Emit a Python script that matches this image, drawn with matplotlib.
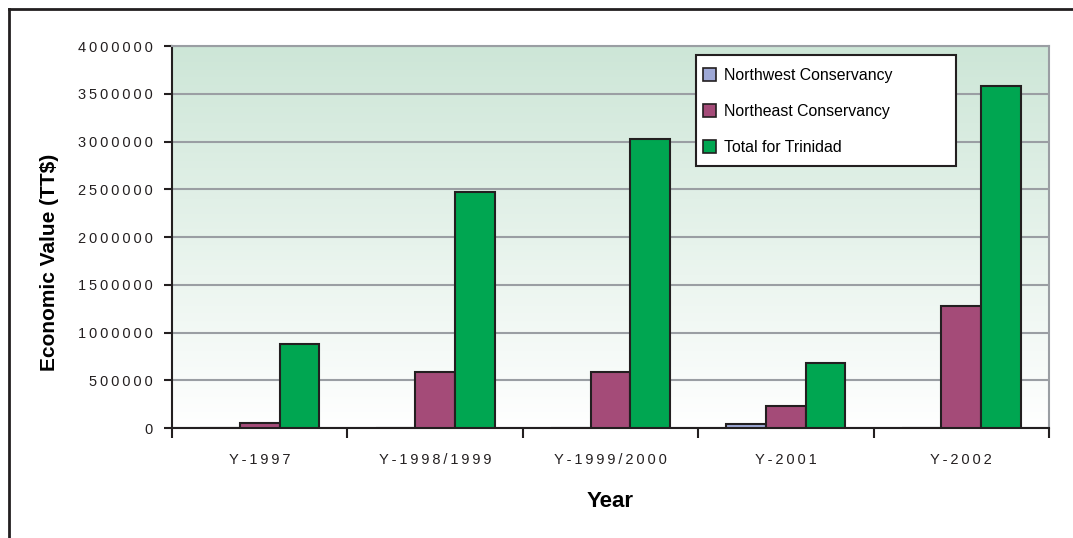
import numpy as np
import matplotlib.pyplot as plt
from matplotlib.colors import LinearSegmentedColormap
from matplotlib.patches import Rectangle
from matplotlib.lines import Line2D

years = ["Y-1997", "Y-1998/1999", "Y-1999/2000", "Y-2001", "Y-2002"]
northwest = [0, 0, 0, 45000, 0]
northeast = [50000, 585000, 585000, 230000, 1280000]
total = [880000, 2470000, 3025000, 680000, 3580000]
series_names = ["Northwest Conservancy", "Northeast Conservancy", "Total for Trinidad"]
series_colors = ["#9ea8d6", "#a44b78", "#00a651"]
yticks = [0, 500000, 1000000, 1500000, 2000000, 2500000, 3000000, 3500000, 4000000]

plt.rcParams['font.family'] = ['Liberation Sans', 'DejaVu Sans']


def spaced(s):
    return "\u2009".join(s)


W, H = 1073, 538
fig = plt.figure(figsize=(W / 100, H / 100), dpi=100)
ax = fig.add_axes([172 / W, 1 - 428 / H, (1049 - 172) / W, (428 - 46) / H])

# gradient background of the plot area
cmap = LinearSegmentedColormap.from_list("bg", ["#ffffff", "#cde6d7"])
grad = np.linspace(0, 1, 256).reshape(-1, 1)
ax.imshow(grad, cmap=cmap, aspect="auto", origin="lower",
          extent=[0, 1, 0, 1], transform=ax.transAxes, zorder=0)

x = np.arange(len(years))
w = 0.226
for i, (vals, col) in enumerate(zip([northwest, northeast, total], series_colors)):
    ax.bar(x + (i - 1) * w, vals, width=w, color=col, edgecolor="#231f20",
           linewidth=1.5, zorder=3)

ax.set_xlim(-0.5, len(years) - 0.5)
ax.set_ylim(0, 4000000)
ax.set_yticks(yticks)
ax.set_yticklabels([spaced(str(v)) for v in yticks], fontsize=10.5, color="#231f20")
ax.yaxis.grid(True, color="#9a9ea3", linewidth=1.5, zorder=1)
ax.set_axisbelow(True)

ax.set_xticks(np.arange(len(years) + 1) - 0.5)
ax.set_xticklabels([])
ax.set_xticks(x, minor=True)
ax.set_xticklabels([spaced(y) for y in years], minor=True, fontsize=10.5, color="#231f20")
ax.tick_params(axis="x", which="minor", length=0, pad=18)
ax.tick_params(axis="x", which="major", length=7, width=1.5, direction="out", color="#231f20")
ax.tick_params(axis="y", length=6, width=1.5, direction="out", color="#231f20", pad=8)

for s in ["left", "bottom"]:
    ax.spines[s].set_color("#231f20")
    ax.spines[s].set_linewidth(1.5)
for s in ["top", "right"]:
    ax.spines[s].set_color("#9a9ea3")
    ax.spines[s].set_linewidth(1.5)

ax.set_ylabel("Economic Value (TT$)", fontsize=15, fontweight="bold")
ax.yaxis.set_label_coords((59 - 172) / 877, (428 - 262) / 382)
ax.set_xlabel("Year", fontsize=16, fontweight="bold", labelpad=17)

# legend: manual frame, entries from the library
frame = Rectangle(((696 - 172) / 877, (428 - 166) / 382), (956 - 696) / 877, (166 - 55) / 382,
                  transform=ax.transAxes, facecolor="white", edgecolor="#231f20",
                  linewidth=1.5, zorder=5)
ax.add_patch(frame)
handles = [Rectangle((0, 0), 1, 1, facecolor=c, edgecolor="#231f20", linewidth=1.2)
           for c in series_colors]
leg = ax.legend(handles, series_names, loc="upper left",
                bbox_to_anchor=((703 - 172) / 877, (428 - 68) / 382),
                fontsize=11.4, frameon=False, borderpad=0, labelspacing=1.33,
                handlelength=0.85, handleheight=0.85, handletextpad=0.5,
                borderaxespad=0)
leg.set_zorder(6)

# outer frame (top and left edges only)
fig.add_artist(Line2D([9 / W, 1], [1 - 9 / H, 1 - 9 / H], color="#231f20", linewidth=2))
fig.add_artist(Line2D([9 / W, 9 / W], [0, 1 - 9 / H], color="#231f20", linewidth=2))

fig.savefig("out.png", dpi=100)
